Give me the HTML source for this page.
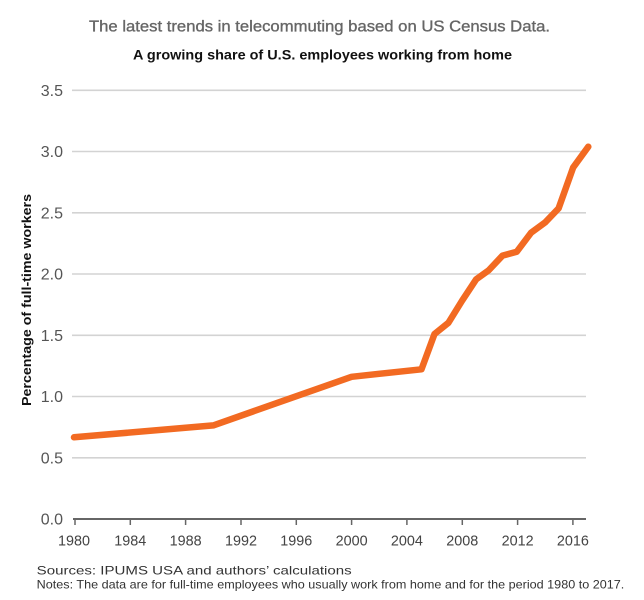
<!DOCTYPE html>
<html>
<head>
<meta charset="utf-8">
<style>
html,body{margin:0;padding:0;background:#fff;}
svg{display:block;}
text{font-family:"Liberation Sans",sans-serif;}
</style>
</head>
<body>
<svg width="644" height="600" viewBox="0 0 644 600" xmlns="http://www.w3.org/2000/svg">
<rect width="644" height="600" fill="#fff"/>
<text x="319.5" y="31.7" font-size="16" fill="#666" stroke="#666" stroke-width="0.35" text-anchor="middle" textLength="461" lengthAdjust="spacingAndGlyphs">The latest trends in telecommuting based on US Census Data.</text>
<text x="322.5" y="59.3" font-size="14" font-weight="bold" fill="#111" text-anchor="middle" textLength="379" lengthAdjust="spacingAndGlyphs">A growing share of U.S. employees working from home</text>

<g stroke="#d3d3d3" stroke-width="1.6">
<line x1="72" y1="90.3" x2="586" y2="90.3"/>
<line x1="72" y1="151.5" x2="586" y2="151.5"/>
<line x1="72" y1="212.8" x2="586" y2="212.8"/>
<line x1="72" y1="274" x2="586" y2="274"/>
<line x1="72" y1="335.3" x2="586" y2="335.3"/>
<line x1="72" y1="396.5" x2="586" y2="396.5"/>
<line x1="72" y1="457.8" x2="586" y2="457.8"/>
</g>

<g font-size="16" fill="#555" text-anchor="end">
<text x="63" y="96">3.5</text>
<text x="63" y="157">3.0</text>
<text x="63" y="218.5">2.5</text>
<text x="63" y="279.7">2.0</text>
<text x="63" y="341">1.5</text>
<text x="63" y="402.2">1.0</text>
<text x="63" y="463.5">0.5</text>
<text x="63" y="524.7">0.0</text>
</g>

<text transform="translate(31,300) rotate(-90)" font-size="13" font-weight="bold" fill="#111" text-anchor="middle" textLength="212" lengthAdjust="spacingAndGlyphs">Percentage of full-time workers</text>

<line x1="73" y1="519" x2="586" y2="519" stroke="#666" stroke-width="2"/>
<g stroke="#666" stroke-width="1.5">
<line x1="75" y1="519" x2="75" y2="525"/>
<line x1="130.3" y1="519" x2="130.3" y2="525"/>
<line x1="185.6" y1="519" x2="185.6" y2="525"/>
<line x1="241" y1="519" x2="241" y2="525"/>
<line x1="296.3" y1="519" x2="296.3" y2="525"/>
<line x1="351.6" y1="519" x2="351.6" y2="525"/>
<line x1="406.9" y1="519" x2="406.9" y2="525"/>
<line x1="462.3" y1="519" x2="462.3" y2="525"/>
<line x1="517.6" y1="519" x2="517.6" y2="525"/>
<line x1="572.9" y1="519" x2="572.9" y2="525"/>
</g>
<g font-size="15" fill="#444" text-anchor="middle">
<text x="74" y="545.5" textLength="32" lengthAdjust="spacingAndGlyphs">1980</text>
<text x="130.3" y="545.5" textLength="32" lengthAdjust="spacingAndGlyphs">1984</text>
<text x="185.6" y="545.5" textLength="32" lengthAdjust="spacingAndGlyphs">1988</text>
<text x="241" y="545.5" textLength="32" lengthAdjust="spacingAndGlyphs">1992</text>
<text x="296.3" y="545.5" textLength="32" lengthAdjust="spacingAndGlyphs">1996</text>
<text x="351.6" y="545.5" textLength="32" lengthAdjust="spacingAndGlyphs">2000</text>
<text x="406.9" y="545.5" textLength="32" lengthAdjust="spacingAndGlyphs">2004</text>
<text x="462.3" y="545.5" textLength="32" lengthAdjust="spacingAndGlyphs">2008</text>
<text x="517.6" y="545.5" textLength="32" lengthAdjust="spacingAndGlyphs">2012</text>
<text x="572.9" y="545.5" textLength="32" lengthAdjust="spacingAndGlyphs">2016</text>
</g>

<polyline fill="none" stroke="#f26a22" stroke-width="6.5" stroke-linecap="round" stroke-linejoin="round"
points="74,437.3 213.3,425.4 351.6,376.8 421.5,369.3 434.5,334 448.4,322.8 462,300.8 476.1,279.4 488.8,270.2 502.5,255.6 516.8,251.7 531.2,232.6 545.2,222.4 558.6,208.4 573.2,167.4 588.3,146.7"/>

<text x="36.7" y="574.3" font-size="11.6" fill="#333" textLength="315" lengthAdjust="spacingAndGlyphs">Sources: IPUMS USA and authors’ calculations</text>
<text x="36.7" y="588.5" font-size="11.6" fill="#333" textLength="587.6" lengthAdjust="spacingAndGlyphs">Notes: The data are for full-time employees who usually work from home and for the period 1980 to 2017.</text>
</svg>
</body>
</html>
